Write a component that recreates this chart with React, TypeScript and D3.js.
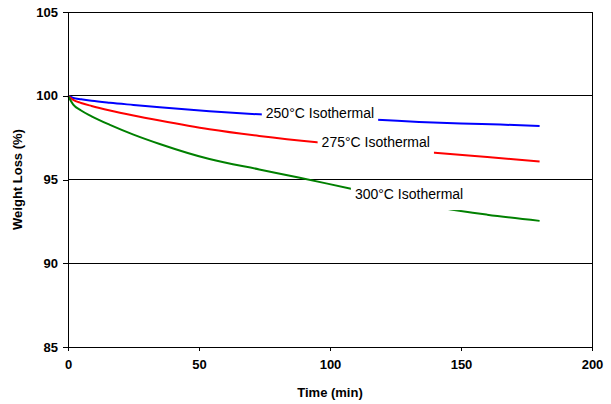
import React, { useEffect, useRef } from 'react';
import * as d3 from 'd3';

// readings off the TGA isotherms
const time250 = [0, 2, 5, 9, 16, 25, 35, 54, 73, 100, 120, 134, 150, 165, 180];
const loss250 = [100, 99.87, 99.79, 99.7, 99.58, 99.45, 99.31, 99.08, 98.89, 98.69, 98.55, 98.44, 98.35, 98.28, 98.2];

const time275 = [0, 2, 5, 9, 16, 25, 35, 54, 73, 95, 120, 140, 160, 180];
const loss275 = [100, 99.75, 99.57, 99.39, 99.12, 98.82, 98.52, 98.0, 97.6, 97.22, 96.88, 96.6, 96.34, 96.08];

const time300 = [0, 2, 5, 9, 16, 25, 35, 54, 73, 88, 108, 125, 143, 160, 180];
const loss300 = [100, 99.47, 99.12, 98.77, 98.26, 97.68, 97.12, 96.22, 95.6, 95.12, 94.45, 93.9, 93.3, 92.9, 92.53];

const seriesNames = ['250°C Isothermal', '275°C Isothermal', '300°C Isothermal'];
const seriesColors = ['#0000ff', '#ff0000', '#008000'];
// label anchor (time, value) for each series
const labelTime = [75.5, 96.8, 109.5];
const labelValue = [98.95, 97.25, 94.13];

const xTicks = [0, 50, 100, 150, 200];
const yTicks = [85, 90, 95, 100, 105];

const W = 611;
const H = 404;
const margin = { left: 68, right: 19, top: 12, bottom: 57 };

export default function App() {
  const ref = useRef<SVGSVGElement>(null);

  useEffect(() => {
    const svg = d3.select(ref.current);
    svg.selectAll('*').remove();

    const x = d3.scaleLinear().domain([0, 200]).range([margin.left, W - margin.right]);
    const y = d3.scaleLinear().domain([85, 105]).range([H - margin.bottom, margin.top]);

    const font = 'Arial, "Liberation Sans", sans-serif';

    // grid lines
    svg.append('g')
      .selectAll('line')
      .data(yTicks.filter(d => d > 85))
      .enter()
      .append('line')
      .attr('x1', x(0))
      .attr('x2', x(200))
      .attr('y1', d => y(d))
      .attr('y2', d => y(d))
      .attr('stroke', '#000')
      .attr('stroke-width', 1)
      .attr('shape-rendering', 'crispEdges');

    // right border
    svg.append('line')
      .attr('x1', x(200)).attr('x2', x(200))
      .attr('y1', y(105)).attr('y2', y(85))
      .attr('stroke', '#000')
      .attr('shape-rendering', 'crispEdges');

    // series
    const series = [
      time250.map((t, i) => [t, loss250[i]]),
      time275.map((t, i) => [t, loss275[i]]),
      time300.map((t, i) => [t, loss300[i]]),
    ];
    const line = d3.line<number[]>()
      .x(d => x(d[0]))
      .y(d => y(d[1]))
      .curve(d3.curveMonotoneX);

    series.forEach((s, i) => {
      svg.append('path')
        .attr('d', line(s))
        .attr('fill', 'none')
        .attr('stroke', seriesColors[i])
        .attr('stroke-width', 2);
    });

    // labels with white boxes
    seriesNames.forEach((name, i) => {
      const g = svg.append('g');
      const rect = g.append('rect').attr('fill', '#fff');
      const tx = x(labelTime[i]);
      const ty = y(labelValue[i]) + 5;
      const text = g.append('text')
        .attr('x', tx)
        .attr('y', ty)
        .attr('font-family', font)
        .attr('font-size', 14)
        .attr('fill', '#000')
        .text(name);
      const w = (text.node() as SVGTextElement).getComputedTextLength();
      rect.attr('x', tx - 4)
        .attr('y', ty - 15)
        .attr('width', w + 8)
        .attr('height', 26);
    });

    // axes
    const xAxis = d3.axisBottom(x).tickValues(xTicks).tickSize(4).tickSizeOuter(0).tickPadding(9);
    const gx = svg.append('g')
      .attr('transform', `translate(0, ${y(85)})`)
      .call(xAxis);

    const yAxis = d3.axisLeft(y).tickValues(yTicks).tickSize(5).tickSizeOuter(0).tickPadding(5);
    const gy = svg.append('g')
      .attr('transform', `translate(${x(0)}, 0)`)
      .call(yAxis);

    [gx, gy].forEach(g => {
      g.selectAll('path, line').attr('stroke', '#000').attr('shape-rendering', 'crispEdges');
      g.selectAll('text')
        .attr('font-family', font)
        .attr('font-size', 13)
        .attr('font-weight', 'bold')
        .attr('fill', '#000');
    });

    svg.append('text')
      .attr('x', (x(0) + x(200)) / 2)
      .attr('y', 397)
      .attr('text-anchor', 'middle')
      .attr('font-family', font)
      .attr('font-size', 13)
      .attr('font-weight', 'bold')
      .text('Time (min)');

    svg.append('text')
      .attr('transform', `translate(22, ${(y(85) + y(105)) / 2}) rotate(-90)`)
      .attr('text-anchor', 'middle')
      .attr('font-family', font)
      .attr('font-size', 13)
      .attr('font-weight', 'bold')
      .text('Weight Loss (%)');
  }, []);

  return (
    <svg
      ref={ref}
      width={W}
      height={H}
      style={{ position: 'absolute', left: 0, top: 0, background: '#fff' }}
    />
  );
}
